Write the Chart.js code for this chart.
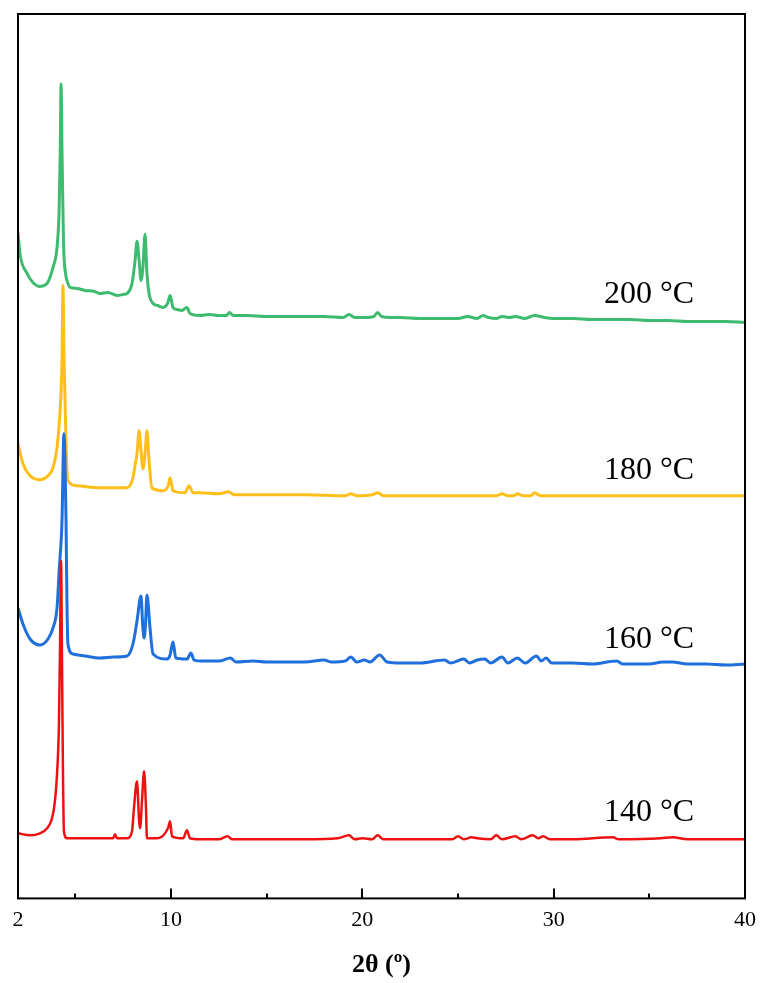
<!DOCTYPE html>
<html>
<head>
<meta charset="utf-8">
<script src="https://cdn.jsdelivr.net/npm/chart.js@4/dist/chart.umd.min.js"></script>
<style>
html,body{margin:0;padding:0;background:#fff;}
#wrap{width:760px;height:983px;position:relative;}
</style>
</head>
<body>
<div id="wrap"><canvas id="c" width="760" height="983"></canvas></div>
<script>
// ---- data (2θ in degrees, intensity in arbitrary units, stacked offsets included) ----
const tickValues = [2, 5, 10, 15, 20, 25, 30, 35, 40];
const tickLabels = {2: '2', 10: '10', 20: '20', 30: '30', 40: '40'};
const seriesNames = ['140 °C', '160 °C', '180 °C', '200 °C'];

const red2theta = [2.0,2.63,3.15,3.52,3.78,3.93,4.04,4.14,4.2,4.25,4.3,4.35,4.4,4.56,5.5,6.97,7.07,7.18,7.7,7.96,8.06,8.22,8.33,8.38,8.48,8.59,8.69,8.74,9.27,9.84,9.95,10.05,10.63,10.83,10.99,11.5,12.5,12.95,13.2,15,17,18.7,19.3,19.6,20.0,20.5,20.8,21.1,23,24.7,25.0,25.3,25.7,26.0,26.7,27.0,27.3,28.0,28.3,28.9,29.2,29.45,29.8,31,33.1,33.4,35.6,36.2,37,40];
const redInt    = [168,166,168,173,183,200,227,277,360,440,340,230,170,163,163,163,167,163,163,170,193,220,180,173,200,230,193,163,163,173,180,165,163,171,163,162,162,165,162,162,162,163,166,162,163,162,166,162,162,162,165,162,164,163,162,166,162,165,162,166,163,165,162,162,164,162,163,164,162,162];

const blue2theta = [2.0,2.26,2.63,3.15,3.57,3.83,4.04,4.15,4.3,4.4,4.51,4.56,4.61,4.87,5.5,6.29,7.0,7.7,8.01,8.22,8.43,8.52,8.59,8.66,8.74,8.9,9.06,9.79,9.95,10.1,10.25,10.83,11.04,11.2,11.6,12.5,13.1,13.4,14.3,15,16,17,18.0,18.4,19.1,19.4,19.7,20.1,20.4,20.9,21.3,22,23,24.3,24.6,25.3,25.6,26.0,26.4,26.7,27.3,27.6,28.1,28.5,29.1,29.35,29.6,29.9,31,32,33.3,33.6,35,35.7,36.2,37,38,39,40];
const blueInt    = [393,377,362,356,362,373,393,430,480,567,480,397,357,347,345,343,344,345,357,380,405,375,363,375,406,373,347,342,346,359,343,342,348,341,340,340,343,339,340,339,339,339,341,339,340,344,339,341,339,346,339,338,338,341,338,342,338,341,342,338,344,338,343,338,345,340,343,338,338,337,340,337,337,339,339,337,337,336,337];

const yellow2theta = [2.0,2.26,2.63,3.15,3.57,3.83,4.04,4.2,4.3,4.35,4.41,4.46,4.51,4.61,5.08,6.29,7.7,8.01,8.13,8.22,8.33,8.43,8.53,8.64,8.74,8.85,9.0,9.58,9.85,9.95,10.1,10.73,10.94,11.15,11.51,12.5,13.0,13.3,15,17,19.1,19.4,19.7,20.5,20.8,21.1,23,25,27.0,27.3,27.6,27.9,28.1,28.4,28.8,29.0,29.3,31,34,37,40];
const yellowInt    = [557,537,525,521,525,533,553,590,640,715,640,600,557,520,515,513,513,523,537,547,570,550,532,547,570,540,513,510,515,523,510,508,515,508,508,507,509,506,506,506,505,507,505,506,508,505,505,505,505,507,505,505,507,505,505,508,505,505,505,505,505];

const green2theta = [2.0,2.1,2.47,2.78,3.15,3.52,3.67,3.83,4.04,4.15,4.21,4.25,4.3,4.38,4.5,4.56,4.72,5.08,5.5,6.0,6.29,6.7,7.18,7.5,7.7,7.96,8.12,8.22,8.33,8.43,8.53,8.64,8.74,8.85,9.06,9.3,9.58,9.82,9.95,10.1,10.3,10.57,10.83,10.99,11.51,12.0,12.5,12.9,13.05,13.25,14,15,16,17,18,19,19.3,19.6,20.2,20.6,20.8,21.0,21.5,22,23,24,25,25.5,26,26.3,26.6,27,27.3,27.7,28,28.5,29,29.5,30,31,32,33,34,35,36,37,38,39,40];
const greenInt    = [768,747,727,718,714,717,723,733,753,790,850,916,850,757,725,720,713,712,710,709,707,708,705,706,707,717,740,759,740,720,733,766,727,707,697,695,693,697,705,693,691,690,693,687,685,686,685,685,688,685,685,684,684,684,684,683,686,683,683,684,688,684,683,683,682,682,682,684,682,685,683,682,684,683,684,682,685,683,682,682,681,681,681,680,680,679,679,679,678];

// label anchor values (2θ, intensity) for series annotations
const labelX = 37.34;
const labelY = [189, 361, 530, 706];

const colors = ['#ee1111', '#1f6fdc', '#ffbf1a', '#3dbb6e'];
const widths = [2.5, 3, 3, 3];

function pts(xs, ys){ return xs.map((x,i)=>({x:x, y:ys[i]})); }
const allX = [red2theta, blue2theta, yellow2theta, green2theta];
const allY = [redInt, blueInt, yellowInt, greenInt];

const framePlugin = {
  id: 'frame',
  afterDatasetsDraw(chart){
    const {ctx, chartArea:a, scales:{x, y}} = chart;
    ctx.save();
    ctx.strokeStyle = '#000';
    ctx.lineWidth = 2;
    tickValues.forEach(v=>{
      if (v === 2 || v === 40) return;
      const px = Math.round(x.getPixelForValue(v));
      const len = (v % 10 === 0) ? 10 : 5;
      ctx.beginPath();
      ctx.moveTo(px, a.bottom);
      ctx.lineTo(px, a.bottom - len);
      ctx.stroke();
    });
    ctx.strokeRect(a.left, a.top, a.right - a.left, a.bottom - a.top);
    ctx.fillStyle = '#000';
    ctx.font = '32px "Liberation Serif", "Times New Roman", serif';
    ctx.textAlign = 'right';
    ctx.textBaseline = 'middle';
    seriesNames.forEach((n,i)=>{
      ctx.fillText(n, x.getPixelForValue(labelX), y.getPixelForValue(labelY[i]));
    });
    ctx.restore();
  }
};

new Chart(document.getElementById('c'), {
  type: 'line',
  data: {
    datasets: seriesNames.map((n,i)=>({
      label: n,
      data: pts(allX[i], allY[i]),
      borderColor: colors[i],
      backgroundColor: colors[i],
      borderWidth: widths[i],
      pointRadius: 0,
      cubicInterpolationMode: 'monotone',
      borderJoinStyle: 'round',
      fill: false
    }))
  },
  options: {
    responsive: false,
    animation: false,
    layout: { padding: { left: 18, right: 15, top: 14, bottom: 2 } },
    plugins: { legend: { display: false }, tooltip: { enabled: false } },
    scales: {
      x: {
        type: 'linear',
        min: 2, max: 40,
        grid: { display: false, drawTicks: false },
        border: { display: false },
        afterBuildTicks(scale){ scale.ticks = tickValues.map(v=>({value:v})); },
        afterFit(scale){ scale.paddingLeft = 0; scale.paddingRight = 0; },
        ticks: {
          autoSkip: false, maxRotation: 0, padding: 9,
          color: '#000',
          font: { family: '"Liberation Serif", "Times New Roman", serif', size: 22 },
          callback: (v)=> tickLabels[v] !== undefined ? tickLabels[v] : ''
        },
        title: {
          display: true,
          text: '2θ (º)',
          color: '#000',
          padding: { top: 7, bottom: 0 },
          font: { family: '"Liberation Serif", "Times New Roman", serif', size: 26, weight: 'bold' }
        }
      },
      y: {
        display: false,
        min: 103, max: 986
      }
    }
  },
  plugins: [framePlugin]
});
</script>
</body>
</html>
